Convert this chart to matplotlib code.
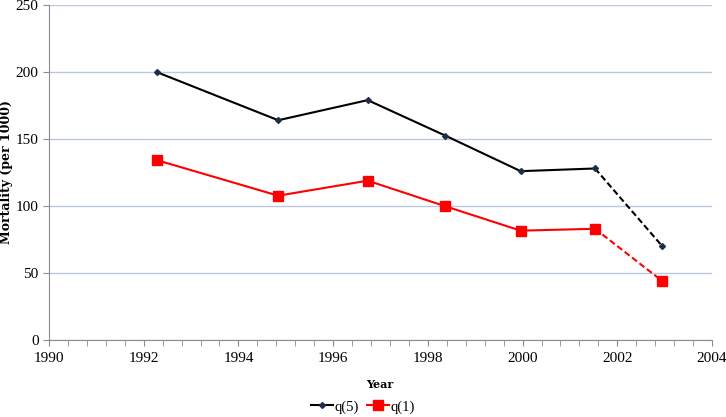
import matplotlib.pyplot as plt
from matplotlib.ticker import MultipleLocator
from matplotlib.lines import Line2D

years = [1992.27, 1994.84, 1996.73, 1998.37, 1999.96, 2001.53, 2002.95]
q5 = [200, 164, 179, 152.5, 126, 128, 70]
q1 = [134.3, 107.7, 118.9, 99.8, 81.6, 83, 44]

plt.rcParams['font.family'] = ['Liberation Serif', 'DejaVu Serif']

fig = plt.figure(figsize=(7.26, 4.17), dpi=100)
ax = fig.add_axes([49 / 726, 1 - 340 / 417, (712 - 49) / 726, 335 / 417])

# solid part, then the dashed last segment
ax.plot(years[:-1], q5[:-1], color="black", lw=1.5, zorder=3)
ax.plot(years[-2:], q5[-2:], color="black", lw=1.5, ls=(0, (3, 1.5)), zorder=3)
ax.plot(years, q5, ls="none", marker="D", ms=3, color="#1f2d4d", zorder=4)

ax.plot(years[:-1], q1[:-1], color="#ff0000", lw=1.5, zorder=3)
ax.plot(years[-2:], q1[-2:], color="#ff0000", lw=1.5, ls=(0, (3, 1.5)), zorder=3)
ax.plot(years, q1, ls="none", marker="s", ms=7, color="#ff0000", zorder=4)

ax.set_xlim(1990, 2004)
ax.set_ylim(0, 250)
ax.xaxis.set_major_locator(MultipleLocator(2))
ax.xaxis.set_minor_locator(MultipleLocator(0.4))
ax.yaxis.set_major_locator(MultipleLocator(50))
ax.grid(axis="y", color="#b9c7e0", lw=1)
ax.set_axisbelow(True)

for s in ["top", "right"]:
    ax.spines[s].set_visible(False)
for s in ["left", "bottom"]:
    ax.spines[s].set_color("#8c8c8c")
ax.tick_params(which="both", direction="out", length=4, color="#8c8c8c",
               labelsize=11)
ax.tick_params(axis="x", pad=5)

ax.set_xlabel("Year", fontweight="bold", fontsize=8, family="DejaVu Serif")
ax.xaxis.set_label_coords(331 / 663, -39 / 335)
ax.set_ylabel("Mortality (per 1000)", fontweight="bold", fontsize=9,
              family="DejaVu Serif")
ax.yaxis.set_label_coords(-36 / 663, 0.5)

handles = [
    Line2D([], [], color="black", lw=1.5, marker="D", ms=3,
           markerfacecolor="#1f2d4d", markeredgecolor="#1f2d4d"),
    Line2D([], [], color="#ff0000", lw=1.5, marker="s", ms=7),
]
fig.legend(handles, ["q(5)", "q(1)"], loc="center", ncol=2,
           bbox_to_anchor=(363 / 726, 1 - 407 / 417), frameon=False,
           fontsize=10.5, handlelength=1.5, handletextpad=0.1,
           columnspacing=0.6)

fig.savefig("out.png", dpi=100)
